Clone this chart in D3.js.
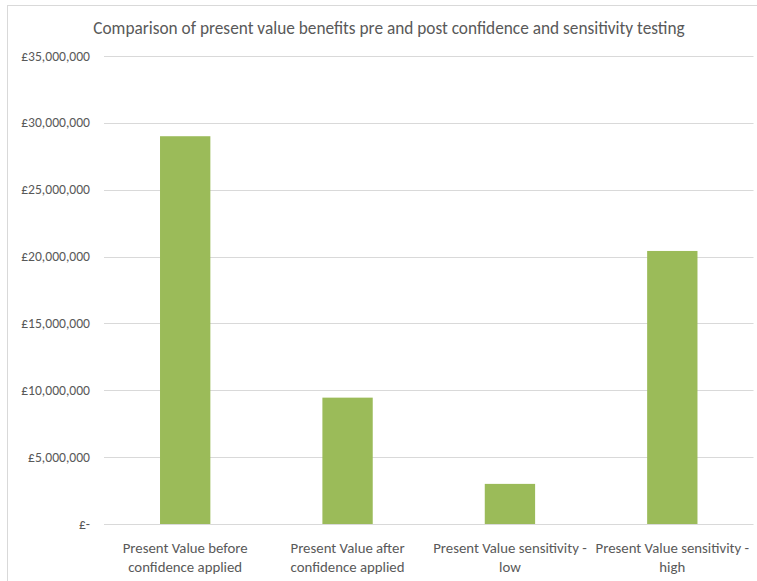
<!DOCTYPE html>
<html>
<head>
<meta charset="utf-8">
<script src="https://cdn.jsdelivr.net/npm/d3@7"></script>
<style>
  body { margin: 0; background: #fff; }
  text { font-family: Calibri, Carlito, Lato, "Open Sans", sans-serif; fill: #595959; }
</style>
</head>
<body>
<svg id="chart" width="757" height="581"></svg>
<script>
// data
const categories = [
    ['Present Value before', 'confidence applied'],
    ['Present Value after', 'confidence applied'],
    ['Present Value sensitivity -', 'low'],
    ['Present Value sensitivity -', 'high']
];
const values = [29000000, 9450000, 3000000, 20420000];
const yTicks = [0, 5000000, 10000000, 15000000, 20000000, 25000000, 30000000, 35000000];
const title = 'Comparison of present value benefits pre and post confidence and sensitivity testing';

const svg = d3.select('#chart');
const margin = {left: 104, right: 3.5, top: 56, bottom: 57};
const W = 757, H = 581;

// chart border (runs off the picture on the right and bottom)
svg.append('rect')
    .attr('x', 7.5).attr('y', 5.5)
    .attr('width', W + 10).attr('height', H + 10)
    .attr('fill', 'none')
    .attr('stroke', '#d9d9d9');

const x = d3.scaleBand()
    .domain(d3.range(categories.length))
    .range([margin.left, W - margin.right])
    .paddingInner(0.69)
    .paddingOuter(0.345);

const y = d3.scaleLinear()
    .domain([0, 35000000])
    .range([H - margin.bottom, margin.top]);

svg.append('text')
    .attr('x', 389)
    .attr('y', 34)
    .attr('text-anchor', 'middle')
    .style('font-size', '17.3px')
    .text(title);

// gridlines
svg.append('g')
    .selectAll('line')
    .data(yTicks)
    .enter()
    .append('line')
    .attr('x1', margin.left)
    .attr('x2', W - margin.right)
    .attr('y1', d => Math.round(y(d)) + 0.5)
    .attr('y2', d => Math.round(y(d)) + 0.5)
    .attr('stroke', '#d9d9d9')
    .attr('stroke-width', 1);

const fmt = d3.format(',');
svg.append('g')
    .selectAll('text')
    .data(yTicks)
    .enter()
    .append('text')
    .attr('x', 90)
    .attr('y', d => y(d) + 4.5)
    .attr('text-anchor', 'end')
    .style('font-size', '13.6px')
    .text(d => d === 0 ? '£-' : '£' + fmt(d));

svg.append('g')
    .selectAll('rect')
    .data(values)
    .enter()
    .append('rect')
    .attr('x', (d, i) => x(i))
    .attr('width', x.bandwidth())
    .attr('y', d => y(d))
    .attr('height', d => y(0) - y(d))
    .attr('fill', '#9bbb59');

const labels = svg.append('g')
    .selectAll('text')
    .data(categories)
    .enter()
    .append('text')
    .attr('text-anchor', 'middle')
    .style('font-size', '14.8px');

labels.selectAll('tspan')
    .data((d, i) => d.map(t => ({t, i})))
    .enter()
    .append('tspan')
    .attr('x', d => x(d.i) + x.bandwidth() / 2)
    .attr('y', (d, j) => 553 + j * 19)
    .text(d => d.t);
</script>
</body>
</html>
